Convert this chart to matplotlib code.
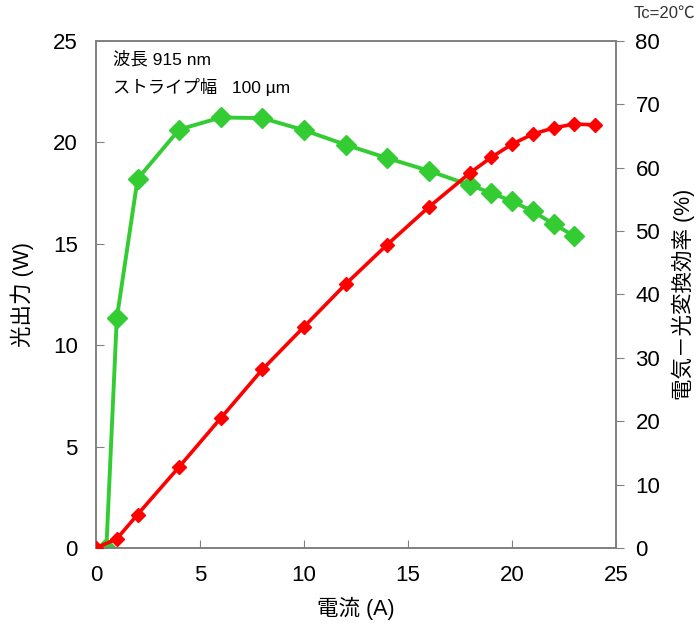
import matplotlib
matplotlib.use("Agg")
import matplotlib.pyplot as plt

plt.rcParams['font.family'] = ['Liberation Sans', 'Noto Sans CJK JP', 'DejaVu Sans']

# 光出力 (W) vs 電流 (A)
current_p = [0, 1, 2, 4, 6, 8, 10, 12, 14, 16, 18, 19, 20, 21, 22, 23, 24]
power = [0, 0.45, 1.65, 4.0, 6.4, 8.8, 10.9, 13.0, 14.95, 16.8, 18.5, 19.25, 19.9, 20.4, 20.7, 20.9, 20.85]

# 電気－光変換効率 (%)
current_e = [0.5, 1, 2, 4, 6, 8, 10, 12, 14, 16, 18, 19, 20, 21, 22, 23]
efficiency = [0, 36.2, 58.2, 66.0, 67.9, 67.8, 65.9, 63.6, 61.5, 59.5, 57.2, 56.0, 54.7, 53.1, 51.1, 49.2]

fig = plt.figure(figsize=(6.97, 6.27), dpi=100)
ax = fig.add_axes([0.1377, 0.126, 0.746, 0.809])
ax2 = ax.twinx()

ax.plot(current_p, power, color='#ff0000', lw=2.6, marker='D', ms=7, zorder=3)
ax2.plot(current_e, efficiency, color='#33cc33', lw=2.8, marker='D', ms=10.5, zorder=2)
ax.set_zorder(ax2.get_zorder() + 1)
ax.patch.set_visible(False)

ax.set_xlim(0, 25)
ax.set_ylim(0, 25)
ax2.set_ylim(0, 80)
ax.set_xticks([0, 5, 10, 15, 20, 25])
ax.set_yticks([0, 5, 10, 15, 20, 25])
ax2.set_yticks(range(0, 81, 10))

for a in (ax, ax2):
    for s in a.spines.values():
        s.set_color('#808080')
        s.set_linewidth(1.2)
ax.tick_params(axis='y', direction='in', length=6, color='#808080', labelsize=16, pad=13)
ax.tick_params(axis='x', direction='in', length=6, color='#808080', labelsize=16, pad=12)
ax2.tick_params(axis='y', direction='out', length=6, color='#808080', labelsize=16, pad=8)

ax.set_xlabel('電流 (A)', fontsize=15.5, labelpad=8)
ax.set_ylabel('光出力 (W)', fontsize=15.5, labelpad=14)
ax2.set_ylabel('電気－光変換効率 (%)', fontsize=15.5, labelpad=8)

ax.text(0.033, 0.98, '波長 915 nm\nストライプ幅   100 µm', transform=ax.transAxes,
        fontsize=12.5, va='top', ha='left', linespacing=1.7)
fig.text(0.997, 0.99, 'Tc=20℃', fontsize=12, ha='right', va='top', color='#333333')

fig.savefig('out.png', dpi=100)
